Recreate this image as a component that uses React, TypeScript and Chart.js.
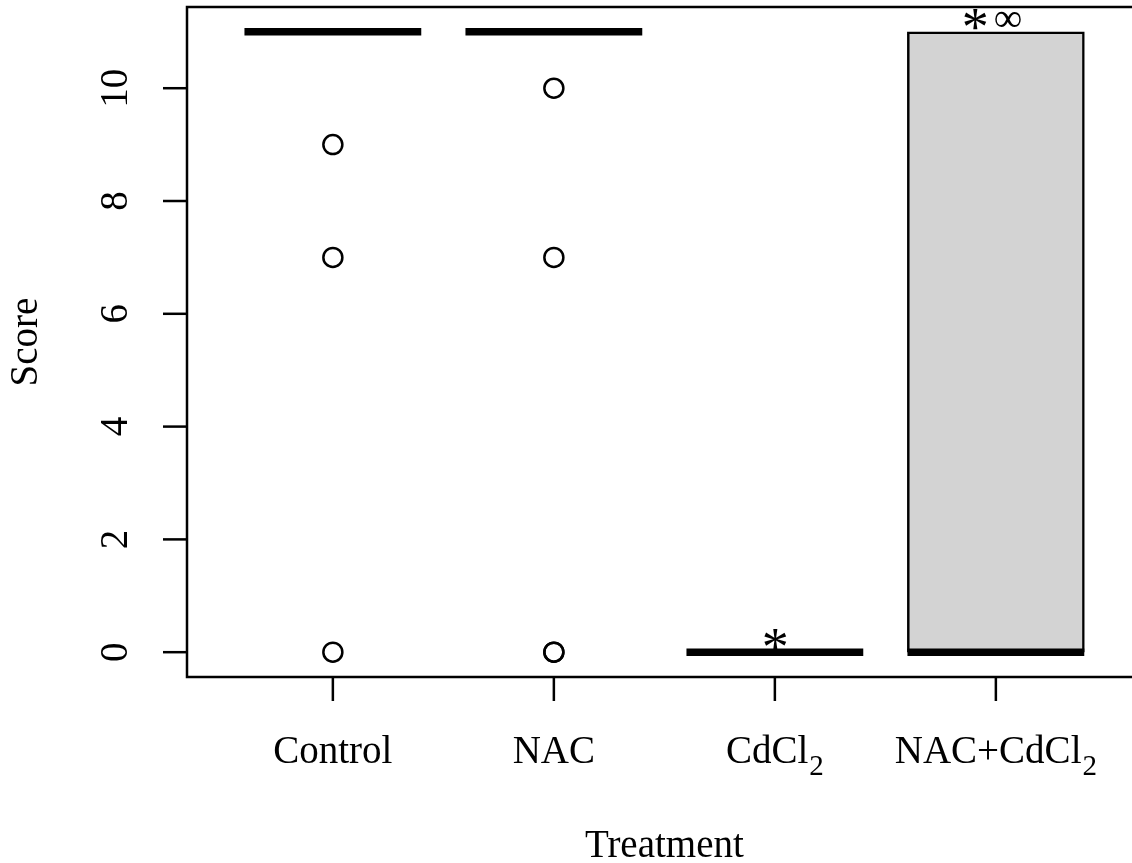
import React, { useEffect, useRef } from "react";
import { Chart, registerables } from "chart.js";

Chart.register(...registerables);

// ---------- data ----------
const categories = ["Control", "NAC", "CdCl|2", "NAC+CdCl|2"]; // "|" marks a subscript start
const q1 = [11, 11, 0, 0];
const medians = [11, 11, 0, 0];
const q3 = [11, 11, 0, 11];
const outliers: number[][] = [[9, 7, 0], [10, 7, 0, 0], [], []];
const annotations: string[][] = [[], [], ["*"], ["*", "\u221E"]];
const yTicks = [0, 2, 4, 6, 8, 10];
const xTitle = "Treatment";
const yTitle = "Score";

const FONT = "'Liberation Serif', 'Times New Roman', serif";
const BOX_HALF = 0.4;

function drawLabel(ctx: CanvasRenderingContext2D, label: string, cx: number, baseline: number, size: number) {
  const parts = label.split("|");
  const main = parts[0];
  const sub = parts[1] || "";
  ctx.font = `${size}px ${FONT}`;
  const wMain = ctx.measureText(main).width;
  const subSize = Math.round(size * 0.75);
  ctx.font = `${subSize}px ${FONT}`;
  const wSub = sub ? ctx.measureText(sub).width + 1 : 0;
  const total = wMain + wSub;
  const x0 = cx - total / 2;
  ctx.textAlign = "left";
  ctx.textBaseline = "alphabetic";
  ctx.font = `${size}px ${FONT}`;
  ctx.fillText(main, x0, baseline);
  if (sub) {
    ctx.font = `${subSize}px ${FONT}`;
    ctx.fillText(sub, x0 + wMain + 1, baseline + 12);
  }
}

function drawGlyph(ctx: CanvasRenderingContext2D, g: string, cx: number, cy: number) {
  // draw a glyph so that its ink box is centred on (cx, cy)
  const size = g === "*" ? 54 : 40;
  ctx.font = `${size}px ${FONT}`;
  ctx.textAlign = "left";
  ctx.textBaseline = "alphabetic";
  const m = ctx.measureText(g);
  const w = m.actualBoundingBoxRight + m.actualBoundingBoxLeft;
  const h = m.actualBoundingBoxAscent + m.actualBoundingBoxDescent;
  const x = cx - w / 2 + m.actualBoundingBoxLeft;
  const y = cy + h / 2 - m.actualBoundingBoxDescent;
  ctx.fillText(g, x, y);
}

const rPlot = {
  id: "rPlot",
  afterDraw(chart: any) {
    const ctx: CanvasRenderingContext2D = chart.ctx;
    const xs = chart.scales.x;
    const ys = chart.scales.y;
    const area = chart.chartArea;
    ctx.save();
    ctx.fillStyle = "#000";
    ctx.strokeStyle = "#000";
    // frame (right side falls off the canvas)
    ctx.lineWidth = 2.5;
    ctx.strokeRect(area.left, area.top, area.right + 10 - area.left, area.bottom - area.top);

    // y axis ticks + labels
    yTicks.forEach((v) => {
      const py = ys.getPixelForValue(v);
      ctx.beginPath();
      ctx.moveTo(area.left - 24, py);
      ctx.lineTo(area.left, py);
      ctx.stroke();
      ctx.save();
      ctx.translate(area.left - 70, py);
      ctx.rotate(-Math.PI / 2);
      ctx.font = `39px ${FONT}`;
      ctx.textAlign = "center";
      ctx.textBaseline = "middle";
      ctx.fillText(String(v), 0, 0);
      ctx.restore();
    });

    // x axis ticks + labels
    categories.forEach((c, i) => {
      const px = xs.getPixelForValue(i + 1);
      ctx.beginPath();
      ctx.moveTo(px, area.bottom);
      ctx.lineTo(px, area.bottom + 24);
      ctx.stroke();
      drawLabel(ctx, c, px, area.bottom + 86, 39);
    });

    // annotations (significance marks above each group)
    annotations.forEach((marks, i) => {
      if (!marks.length) return;
      const cx = xs.getPixelForValue(i + 1);
      const top = ys.getPixelForValue(Math.max(q3[i], medians[i]));
      const cy = top - 12;
      if (marks.length === 1) {
        drawGlyph(ctx, marks[0], cx + 0.5, cy - 1);
      } else {
        drawGlyph(ctx, marks[0], cx - 20.5, cy);
        drawGlyph(ctx, marks[1], cx + 12, cy);
      }
    });

    // axis titles
    ctx.font = `39px ${FONT}`;
    ctx.textAlign = "center";
    ctx.textBaseline = "alphabetic";
    ctx.fillText(xTitle, (xs.getPixelForValue(2) + xs.getPixelForValue(3)) / 2, 857);
    ctx.save();
    ctx.translate(37, (area.top + area.bottom) / 2);
    ctx.rotate(-Math.PI / 2);
    ctx.fillText(yTitle, 0, 0);
    ctx.restore();
    ctx.restore();
  },
};

export default function App() {
  const ref = useRef<HTMLCanvasElement | null>(null);
  useEffect(() => {
    if (!ref.current) return;
    const boxData = categories.map((_, i) => ({ x: i + 1, y: [q1[i], q3[i]] }));
    const medianData: any[] = [];
    medians.forEach((m, i) => {
      medianData.push({ x: i + 1 - BOX_HALF, y: m });
      medianData.push({ x: i + 1 + BOX_HALF, y: m });
      medianData.push({ x: i + 1.5, y: null });
    });
    const outlierData: any[] = [];
    outliers.forEach((arr, i) => arr.forEach((v) => outlierData.push({ x: i + 1, y: v })));

    const chart = new Chart(ref.current, {
      type: "bar",
      data: {
        datasets: [
          {
            type: "bar",
            data: boxData as any,
            backgroundColor: "#d3d3d3",
            borderColor: "#000",
            borderWidth: 2.5,
            borderSkipped: false,
            barThickness: 177,
            order: 3,
          } as any,
          {
            type: "line",
            data: medianData,
            borderColor: "#000",
            borderWidth: 7.5,
            borderCapStyle: "butt",
            pointRadius: 0,
            spanGaps: false,
            order: 1,
          } as any,
          {
            type: "scatter",
            data: outlierData,
            pointStyle: "circle",
            pointRadius: 9.5,
            borderWidth: 2.5,
            borderColor: "#000",
            backgroundColor: "rgba(255,255,255,0)",
            order: 2,
          } as any,
        ],
      },
      options: {
        responsive: false,
        animation: false,
        devicePixelRatio: 1,
        layout: { autoPadding: false, padding: { left: 187, top: 7, right: 0, bottom: 186 } },
        plugins: { legend: { display: false }, tooltip: { enabled: false } },
        scales: {
          x: { type: "linear", min: 0.34, max: 4.616, display: false, offset: false },
          y: { type: "linear", min: -0.44, max: 11.44, display: false },
        },
      },
      plugins: [rPlot],
    });
    return () => chart.destroy();
  }, []);
  return (
    <canvas
      ref={ref}
      width={1132}
      height={863}
      style={{ position: "absolute", left: 0, top: 0, width: 1132, height: 863, background: "#fff" }}
    />
  );
}
